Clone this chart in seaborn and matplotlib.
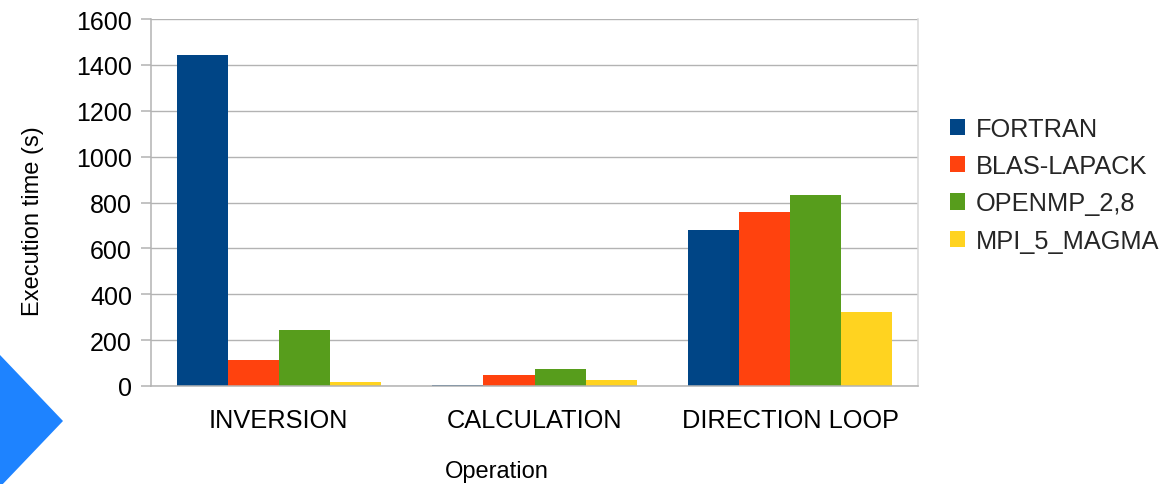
import matplotlib
matplotlib.use("Agg")
import matplotlib.pyplot as plt
from matplotlib.patches import Polygon
import seaborn as sns
import pandas as pd

# Execution time per operation for each implementation (seconds)
operations = ["INVERSION", "CALCULATION", "DIRECTION LOOP"]
implementations = ["FORTRAN", "BLAS-LAPACK", "OPENMP_2,8", "MPI_5_MAGMA"]
fortran = [1445, 6, 680]
blas_lapack = [115, 50, 760]
openmp_2_8 = [242, 72, 833]
mpi_5_magma = [19, 24, 323]
colors = ["#004586", "#ff420e", "#579d1c", "#ffd320"]

series = [fortran, blas_lapack, openmp_2_8, mpi_5_magma]
rows = []
for impl, vals in zip(implementations, series):
    for op, v in zip(operations, vals):
        rows.append({"Operation": op, "Implementation": impl, "Time": v})
df = pd.DataFrame(rows)

sns.set_theme(style="white")
plt.rcParams["font.family"] = ["Liberation Sans", "DejaVu Sans"]

grid_col = "#b3b3b3"
fig = plt.figure(figsize=(11.67, 4.85), dpi=100)
ax = fig.add_axes([151 / 1167, 1 - 387 / 485, (918 - 151) / 1167, (387 - 20) / 485])

sns.barplot(data=df, x="Operation", y="Time", hue="Implementation",
            order=operations, hue_order=implementations, palette=colors,
            width=0.8, linewidth=0, saturation=1, ax=ax, legend=True)

ax.set_xlim(-0.5, 2.5)
ax.set_ylim(0, 1600)
ax.set_yticks(range(0, 1601, 200))
ax.set_axisbelow(True)
ax.yaxis.grid(True, color=grid_col, linewidth=1.0)
ax.xaxis.grid(False)

for side in ["left", "bottom"]:
    ax.spines[side].set_color(grid_col)
    ax.spines[side].set_linewidth(1.1)
ax.spines["right"].set_color("#d9d9d9")
ax.spines["right"].set_linewidth(1.1)
ax.spines["top"].set_visible(False)

# category boundaries carry the x tick marks; labels sit at the centres
ax.set_xticks([-0.5, 0.5, 1.5, 2.5], minor=True)
ax.tick_params(axis="x", which="minor", length=8, width=1.1, color=grid_col, direction="out")
ax.tick_params(axis="x", which="major", length=0, pad=16, labelsize=18.3, labelcolor="black")
ax.tick_params(axis="y", which="major", length=7.2, width=1.1, color=grid_col,
               direction="out", pad=6.5, labelsize=18, labelcolor="black", left=True)

ax.set_xlabel("Operation", fontsize=17, color="black")
ax.set_ylabel("Execution time (s)", fontsize=17, color="black")
ax.xaxis.set_label_coords(0.451, -0.2016)
ax.yaxis.set_label_coords(-0.139, 0.452)

handles, labels = ax.get_legend_handles_labels()
ax.get_legend().remove()
fig.legend(handles, labels, loc="center left", bbox_to_anchor=(950 / 1167, 0.617),
           frameon=False, fontsize=18.3, handlelength=0.6, handleheight=0.6,
           handletextpad=0.4, labelspacing=0.53, borderpad=0, borderaxespad=0)

# blue chevron in the lower-left corner
fig.patches.append(Polygon([[0, 1 - 356 / 485], [63 / 1167, 1 - 422 / 485], [0, 1 - 488 / 485]],
                           closed=True, transform=fig.transFigure, facecolor="#1e83ff",
                           edgecolor="none", figure=fig))

fig.savefig("out.png", dpi=100)
